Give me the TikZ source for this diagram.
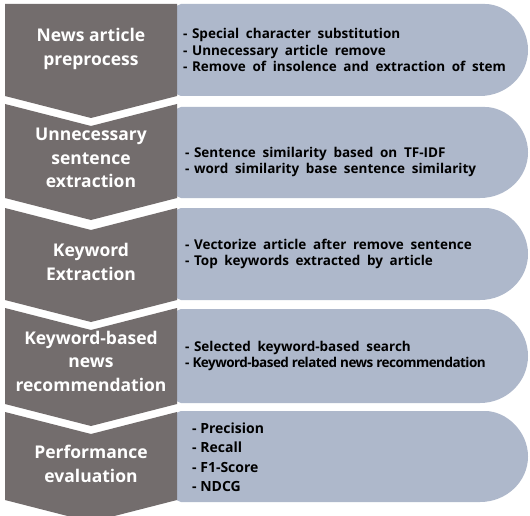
\documentclass[tikz,border=0pt]{standalone}
\usepackage{fontspec}
\setmainfont{Open Sans}
\newfontfamily\panelfont{Open Sans}[WordSpace=1.9]
\newfontfamily\condfont{Open Sans}[LetterSpace=-4]
\newcommand{\dsh}{-\hspace{4.5pt}}
\definecolor{stepgray}{HTML}{736D6D}
\definecolor{panelblue}{HTML}{AEB8CB}
\begin{document}
\begin{tikzpicture}[x=1pt,y=-1pt,
  graytext/.style={text=white,font=\fontsize{17.5}{23.5}\selectfont\bfseries,align=center,inner sep=0pt},
  paneltext/.style={text=black,font=\panelfont\fontsize{13.5}{16.8}\selectfont\bfseries,align=left,anchor=west,inner sep=0pt},
  evaltext/.style={text=black,font=\fontsize{14}{19.5}\selectfont\bfseries,align=left,anchor=west,inner sep=0pt}]
\useasboundingbox (0,0) rectangle (530,516);
\fill[white] (0,0) rectangle (530,516);
% panels
\foreach \T/\B in {4/96,107/198,208/300,309/403,411/502}{
  \pgfmathsetmacro{\M}{(\T+\B)/2}
  \pgfmathsetmacro{\R}{(\B-\T)/2*0.552}
  \fill[panelblue,rounded corners=5] (480,\B) -- (176,\B) -- (176,\T) -- (480,\T) [sharp corners]
    .. controls (506.5,\T) and (528,\M-\R) .. (528,\M)
    .. controls (528,\M+\R) and (506.5,\B) .. (480,\B) -- cycle;
}
% gray chevrons
\fill[stepgray] (5,4) -- (177,4) -- (177,96) -- (91,118) -- (5,96) -- cycle;
\foreach \T/\B in {104/198,208/300,308/404,412/500}{
  \fill[stepgray] (5,\T) -- (91,\T+22) -- (177,\T) -- (177,\B) -- (91,\B+22) -- (5,\B) -- cycle;
}
% gray texts
\node[graytext] (g1) at (91,49) {News article\\preprocess};
\node[graytext] (g2) at (91,158) {Unnecessary\\sentence\\extraction};
\node[graytext] (g3) at (91,262) {Keyword\\Extraction};
\node[graytext] (g4) at (91,361) {Keyword-based\\news\\recommendation};
\node[graytext] (g5) at (91,464) {Performance\\evaluation};
% panel texts
\node[paneltext] (p1) at (183,50) {\dsh Special character substitution\\\dsh Unnecessary article remove\\\dsh Remove of insolence and extraction of stem};
\node[paneltext] (p2) at (185,162) {\dsh Sentence similarity based on TF-IDF\\\dsh word similarity base sentence similarity};
\node[paneltext] (p3) at (185,254) {\dsh Vectorize article after remove sentence\\\dsh Top keywords extracted by article};
\node[paneltext] (p4) at (185,356) {\dsh Selected keyword-based search\\{\condfont\bfseries- Keyword-based related news recommendation}};
\node[evaltext] (p5) at (192,457) {- Precision\\- Recall\\- F1-Score\\- NDCG};
\end{tikzpicture}
\end{document}
